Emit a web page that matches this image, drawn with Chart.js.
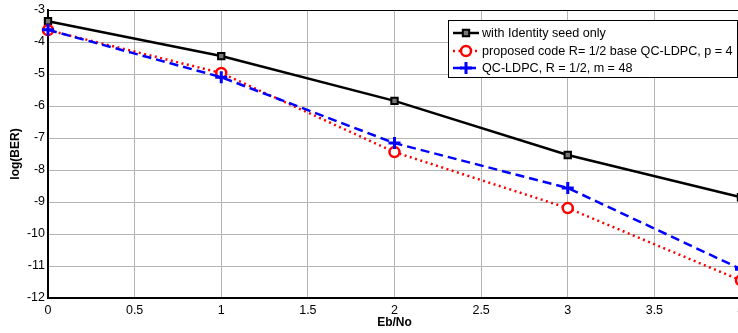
<!DOCTYPE html>
<html>
<head>
<meta charset="utf-8">
<script src="https://cdn.jsdelivr.net/npm/chart.js@4"></script>
<style>
  html, body { margin: 0; padding: 0; background: #fff; overflow: hidden; }
  #wrap { width: 750px; height: 333px; }
</style>
</head>
<body>
<div id="wrap"><canvas id="berChart" width="750" height="333"></canvas></div>
<script>
// Eb/No points
const ebno = [0, 1, 2, 3, 4];
// log(BER) per code
const identitySeed = [-3.35, -4.44, -5.84, -7.53, -8.85];
const proposedCode = [-3.63, -4.97, -7.44, -9.19, -11.45];
const qcLdpc = [-3.62, -5.1, -7.16, -8.56, -11.1];

const xTicks = [0, 0.5, 1, 1.5, 2, 2.5, 3, 3.5, 4];
const yTicks = [-3, -4, -5, -6, -7, -8, -9, -10, -11, -12];

const labels = [
  "with Identity seed only",
  "proposed code R= 1/2 base QC-LDPC, p = 4",
  "QC-LDPC, R = 1/2, m = 48"
];

function pts(ys) {
  return ebno.map((x, i) => ({ x: x, y: ys[i] }));
}

const FONT = "Liberation Sans, Arial, sans-serif";

// legend box and axis titles drawn by hand, matlab style
const extras = {
  id: "extras",
  afterDraw(c) {
    const ctx = c.ctx;
    const area = c.chartArea;
    ctx.save();
    ctx.fillStyle = "#000";
    ctx.font = "bold 12px " + FONT;
    ctx.textAlign = "center";
    ctx.textBaseline = "middle";
    ctx.fillText("Eb/No", (area.left + area.right) / 2, 323);
    ctx.translate(16, (area.top + area.bottom) / 2);
    ctx.rotate(-Math.PI / 2);
    ctx.fillText("log(BER)", 0, 0);
    ctx.restore();

    // legend
    ctx.save();
    const bx = 448, by = 20, bw = 289, bh = 57;
    ctx.fillStyle = "#fff";
    ctx.fillRect(bx, by, bw, bh);
    ctx.strokeStyle = "#000";
    ctx.lineWidth = 1;
    ctx.strokeRect(bx + 0.5, by + 0.5, bw, bh);
    const rows = [33, 51, 68];
    ctx.font = "12.6px " + FONT;
    ctx.textAlign = "left";
    ctx.textBaseline = "middle";
    c.data.datasets.forEach((ds, r) => {
      const y = rows[r];
      ctx.strokeStyle = ds.borderColor;
      ctx.lineWidth = ds.borderWidth;
      ctx.setLineDash(ds.borderDash || []);
      ctx.beginPath();
      ctx.moveTo(453, y);
      ctx.lineTo(479, y);
      ctx.stroke();
      ctx.setLineDash([]);
      ctx.strokeStyle = ds.pointBorderColor;
      ctx.fillStyle = ds.pointBackgroundColor || "#fff";
      ctx.lineWidth = ds.pointBorderWidth;
      Chart.helpers.drawPoint(ctx, {
        pointStyle: ds.pointStyle,
        radius: ds.pointRadius,
        borderWidth: ds.pointBorderWidth
      }, 466, y);
      ctx.fillStyle = "#000";
      ctx.fillText(ds.label, 482, y + 1);
    });
    ctx.restore();
  }
};

const ctx = document.getElementById("berChart").getContext("2d");
const chart = new Chart(ctx, {
  type: "line",
  data: {
    datasets: [
      {
        label: labels[0],
        data: pts(identitySeed),
        borderColor: "#000",
        borderWidth: 2.5,
        pointStyle: "rect",
        pointRadius: 4.5,
        pointBorderWidth: 2,
        pointBorderColor: "#000",
        pointBackgroundColor: "#777",
        clip: false,
        order: 2
      },
      {
        label: labels[1],
        data: pts(proposedCode),
        borderColor: "#ff0000",
        borderWidth: 2.5,
        borderDash: [2, 3.5],
        pointStyle: "circle",
        pointRadius: 5,
        pointBorderWidth: 2.5,
        pointBorderColor: "#ff0000",
        pointBackgroundColor: "#fff",
        clip: false,
        order: 1
      },
      {
        label: labels[2],
        data: pts(qcLdpc),
        borderColor: "#0000ff",
        borderWidth: 2.5,
        borderDash: [9, 5],
        pointStyle: "cross",
        pointRadius: 6,
        pointBorderWidth: 3,
        pointBorderColor: "#0000ff",
        pointBackgroundColor: "#0000ff",
        clip: false,
        order: 0
      }
    ]
  },
  options: {
    responsive: false,
    animation: false,
    layout: { padding: { left: 0, right: 4, top: 10, bottom: 0 } },
    plugins: { legend: { display: false }, tooltip: { enabled: false } },
    scales: {
      x: {
        type: "linear",
        min: xTicks[0],
        max: xTicks[xTicks.length - 1],
        afterBuildTicks: s => { s.ticks = xTicks.map(v => ({ value: v })); },
        afterFit: s => { s.height = 35; s.paddingRight = 0; s.paddingLeft = 0; },
        grid: { color: "#b4b4b4", lineWidth: 1, drawTicks: false },
        border: { color: "#000", width: 2 },
        ticks: {
          color: "#000", padding: 5, maxRotation: 0,
          font: { family: FONT, size: 12.5 },
          callback: v => String(v)
        }
      },
      y: {
        min: -12,
        max: -3,
        afterBuildTicks: s => { s.ticks = yTicks.map(v => ({ value: v })); },
        afterFit: s => { s.width = 48; s.paddingTop = 0; s.paddingBottom = 0; },
        grid: { color: "#b4b4b4", lineWidth: 1, drawTicks: false },
        border: { color: "#000", width: 2 },
        ticks: { color: "#000", padding: 3, font: { family: FONT, size: 12.5 }, callback: v => String(v) }
      }
    }
  },
  plugins: [extras, {
    id: "frame",
    afterDraw(c) {
      const a = c.chartArea, g = c.ctx;
      g.save();
      g.strokeStyle = "#000";
      g.lineWidth = 1;
      g.beginPath();
      g.moveTo(a.left, a.top + 0.5);
      g.lineTo(a.right, a.top + 0.5);
      g.stroke();
      g.restore();
    }
  }]
});
</script>
</body>
</html>
